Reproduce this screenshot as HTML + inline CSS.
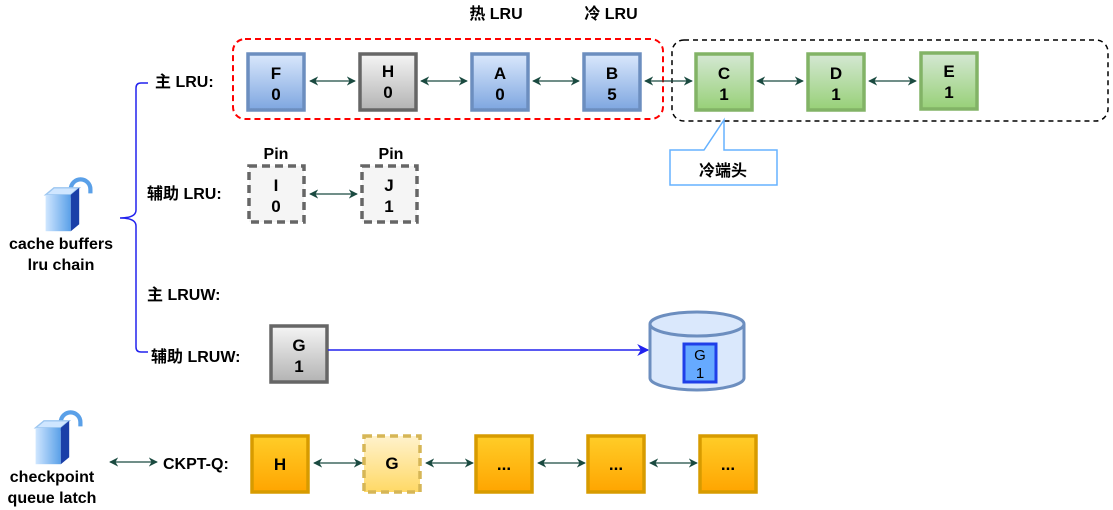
<!DOCTYPE html>
<html><head><meta charset="utf-8"><style>
html,body{margin:0;padding:0;background:#fff;}
svg{display:block;font-family:"Liberation Sans","Noto Sans CJK SC",sans-serif;font-weight:bold;}
</style></head><body>
<svg width="1113" height="510" viewBox="0 0 1113 510" xmlns="http://www.w3.org/2000/svg">
<defs>
<linearGradient id="gb" x1="0" y1="0" x2="0" y2="1"><stop offset="0" stop-color="#dae8fc"/><stop offset="1" stop-color="#7ea6e0"/></linearGradient>
<linearGradient id="gg" x1="0" y1="0" x2="0" y2="1"><stop offset="0" stop-color="#f5f5f5"/><stop offset="1" stop-color="#b3b3b3"/></linearGradient>
<linearGradient id="gn" x1="0" y1="0" x2="0" y2="1"><stop offset="0" stop-color="#d5e8d4"/><stop offset="1" stop-color="#97d077"/></linearGradient>
<linearGradient id="go" x1="0" y1="0" x2="0" y2="1"><stop offset="0" stop-color="#ffcd28"/><stop offset="1" stop-color="#ffa500"/></linearGradient>
<linearGradient id="gy" x1="0" y1="0" x2="0" y2="1"><stop offset="0" stop-color="#fff2cc"/><stop offset="1" stop-color="#ffd966"/></linearGradient>
<linearGradient id="gl" x1="0" y1="0" x2="1" y2="0"><stop offset="0" stop-color="#cfe6ff"/><stop offset="1" stop-color="#5aa0e8"/></linearGradient>
<marker id="a" viewBox="0 0 10 10" refX="9" refY="5" markerWidth="7" markerHeight="7" orient="auto-start-reverse"><path d="M0,0 L10,5 L0,10 L3,5z" fill="#1a4a40"/></marker>
<marker id="ab" viewBox="0 0 10 10" refX="9" refY="5" markerWidth="8" markerHeight="8" orient="auto"><path d="M0,0 L10,5 L0,10 L3,5z" fill="#2222ee"/></marker>
<g id="lock">
<path d="M22,14 v-6 a7,7 0 0 1 14,0 v3" fill="none" stroke="#5aa0e8" stroke-width="3"/>
<path d="M4,12 l6,-5 h18 l-6,5z" fill="#cfe6ff" stroke="#9cc6f0"/>
<rect x="4" y="12" width="18" height="26" fill="url(#gl)"/>
<path d="M22,12 l6,-5 v26 l-6,5z" fill="#1a3fa8"/>
</g>
</defs>

<rect x="233" y="39" width="430" height="80" rx="12" fill="none" stroke="#ff0000" stroke-width="2" stroke-dasharray="6,4"/>
<rect x="672" y="40" width="436" height="81" rx="12" fill="none" stroke="#000" stroke-width="1.5" stroke-dasharray="5,4"/>

<g font-size="16" text-anchor="middle">
<text x="496" y="19">热 LRU</text>
<text x="611" y="19">冷 LRU</text>
<text x="276" y="159">Pin</text>
<text x="391" y="159">Pin</text>
</g>

<g stroke-width="3.5">
<rect x="248" y="54" width="56" height="56" fill="url(#gb)" stroke="#6c8ebf"/>
<rect x="360" y="54" width="56" height="56" fill="url(#gg)" stroke="#666"/>
<rect x="472" y="54" width="56" height="56" fill="url(#gb)" stroke="#6c8ebf"/>
<rect x="584" y="54" width="56" height="56" fill="url(#gb)" stroke="#6c8ebf"/>
<rect x="696" y="54" width="56" height="56" fill="url(#gn)" stroke="#82b366"/>
<rect x="808" y="54" width="56" height="56" fill="url(#gn)" stroke="#82b366"/>
<rect x="921" y="53" width="56" height="56" fill="url(#gn)" stroke="#82b366"/>
<rect x="249" y="166" width="55" height="56" fill="#f5f5f5" stroke="#666" stroke-dasharray="8,5"/>
<rect x="362" y="166" width="55" height="56" fill="#f5f5f5" stroke="#666" stroke-dasharray="8,5"/>
<rect x="271" y="326" width="56" height="56" fill="url(#gg)" stroke="#666"/>
<rect x="252" y="436" width="56" height="56" fill="url(#go)" stroke="#d79b00"/>
<rect x="364" y="436" width="56" height="56" fill="url(#gy)" stroke="#d6b656" stroke-dasharray="8,5"/>
<rect x="476" y="436" width="56" height="56" fill="url(#go)" stroke="#d79b00"/>
<rect x="588" y="436" width="56" height="56" fill="url(#go)" stroke="#d79b00"/>
<rect x="700" y="436" width="56" height="56" fill="url(#go)" stroke="#d79b00"/>
</g>
<g font-size="17" text-anchor="middle">
<text x="276" y="79">F</text><text x="276" y="100">0</text>
<text x="388" y="77">H</text><text x="388" y="98">0</text>
<text x="500" y="79">A</text><text x="500" y="100">0</text>
<text x="612" y="79">B</text><text x="612" y="100">5</text>
<text x="724" y="79">C</text><text x="724" y="100">1</text>
<text x="836" y="79">D</text><text x="836" y="100">1</text>
<text x="949" y="77">E</text><text x="949" y="98">1</text>
<text x="276" y="191">I</text><text x="276" y="212">0</text>
<text x="389" y="191">J</text><text x="389" y="212">1</text>
<text x="299" y="351">G</text><text x="299" y="372">1</text>
<text x="280" y="470">H</text>
<text x="392" y="469">G</text>
<text x="504" y="470">...</text>
<text x="616" y="470">...</text>
<text x="728" y="470">...</text>
</g>

<g stroke="#1a4a40" stroke-width="1.3" marker-start="url(#a)" marker-end="url(#a)">
<line x1="310" y1="81" x2="355" y2="81"/>
<line x1="421" y1="81" x2="467" y2="81"/>
<line x1="533" y1="81" x2="579" y2="81"/>
<line x1="645" y1="81" x2="692" y2="81"/>
<line x1="757" y1="81" x2="803" y2="81"/>
<line x1="869" y1="81" x2="916" y2="81"/>
<line x1="310" y1="194" x2="357" y2="194"/>
<line x1="110" y1="462" x2="157" y2="462"/>
<line x1="314" y1="463" x2="362" y2="463"/>
<line x1="426" y1="463" x2="473" y2="463"/>
<line x1="538" y1="463" x2="585" y2="463"/>
<line x1="650" y1="463" x2="697" y2="463"/>
</g>

<path d="M670,150 H704 L724,120 V150 H777 V185 H670 Z" fill="#fff" stroke="#66b2ff" stroke-width="1.5"/>
<text x="723" y="176" font-size="16" text-anchor="middle">冷端头</text>

<path d="M148,83 H141 Q136,83 136,88 V210 Q136,218 120,218 Q136,218 136,226 V347 Q136,352 141,352 H148" fill="none" stroke="#2222ee" stroke-width="1.5"/>

<g font-size="16">
<text x="155" y="87">主 LRU:</text>
<text x="147" y="199">辅助 LRU:</text>
<text x="147" y="300">主 LRUW:</text>
<text x="151" y="362">辅助 LRUW:</text>
<text x="163" y="469">CKPT-Q:</text>
</g>

<line x1="328" y1="350" x2="648" y2="350" stroke="#2222ee" stroke-width="1.5" marker-end="url(#ab)"/>

<path d="M650,324 V378 A47,12 0 0 0 744,378 V324" fill="#dae8fc" stroke="#6c8ebf" stroke-width="3"/>
<ellipse cx="697" cy="324" rx="47" ry="12" fill="#dae8fc" stroke="#6c8ebf" stroke-width="3"/>
<rect x="684" y="344" width="32" height="38" fill="#66aaff" stroke="#1f3fe8" stroke-width="3"/>
<g font-size="15" text-anchor="middle" font-weight="normal"><text x="700" y="360">G</text><text x="700" y="378">1</text></g>

<use href="#lock" transform="translate(40,178) scale(1.4)"/>
<use href="#lock" transform="translate(30,411) scale(1.4)"/>
<g font-size="16" text-anchor="middle">
<text x="61" y="249">cache buffers</text>
<text x="61" y="270">lru chain</text>
<text x="52" y="482">checkpoint</text>
<text x="52" y="503">queue latch</text>
</g>
</svg>
</body></html>
